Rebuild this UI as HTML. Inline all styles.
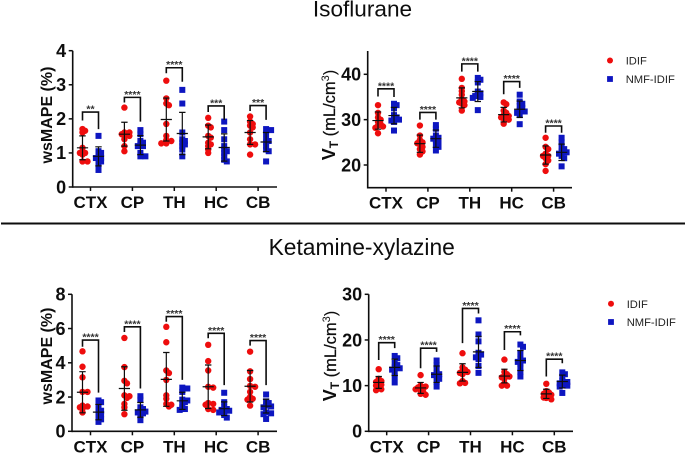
<!DOCTYPE html>
<html lang="en">
<head>
<meta charset="utf-8">
<title>Isoflurane and Ketamine-xylazine charts</title>
<style>
html,body{margin:0;padding:0;background:#fff;width:685px;height:454px;overflow:hidden}
svg{display:block;font-family:"Liberation Sans",Arial,sans-serif}
</style>
</head>
<body>
<svg id="figure" width="685" height="454" viewBox="0 0 685 454" xmlns="http://www.w3.org/2000/svg">
  <defs>
    <filter id="soft" x="-5%" y="-5%" width="110%" height="110%"><feGaussianBlur stdDeviation="0.35"/></filter>
  </defs>
  <g filter="url(#soft)">
    <text x="362.5" y="16.5" text-anchor="middle" font-size="22.6" fill="#111">Isoflurane</text>
    <line x1="1" x2="685" y1="223.5" y2="223.5" stroke="#111" stroke-width="2"/>
    <text x="361.7" y="255" text-anchor="middle" font-size="22.8" fill="#111">Ketamine-xylazine</text>

    <text transform="translate(52,115) rotate(-90)" text-anchor="middle" font-size="16" font-weight="bold" fill="#111">wsMAPE (%)</text>
    <text transform="translate(52,356) rotate(-90)" text-anchor="middle" font-size="16" font-weight="bold" fill="#111">wsMAPE (%)</text>
    <text transform="translate(335,115) rotate(-90)" text-anchor="middle" font-size="16" font-weight="bold" fill="#111"><tspan font-size="18">V</tspan><tspan font-size="12" dy="3">T</tspan><tspan dy="-3" font-size="16.5" stroke="#111" stroke-width="0.25" font-weight="normal"> (mL/cm</tspan><tspan font-size="11" dy="-6" font-weight="normal">3</tspan><tspan dy="6" font-size="16.5" font-weight="normal">)</tspan></text>
    <text transform="translate(336,356) rotate(-90)" text-anchor="middle" font-size="16" font-weight="bold" fill="#111"><tspan font-size="18">V</tspan><tspan font-size="12" dy="3">T</tspan><tspan dy="-3" font-size="16.5" stroke="#111" stroke-width="0.25" font-weight="normal"> (mL/cm</tspan><tspan font-size="11" dy="-6" font-weight="normal">3</tspan><tspan dy="6" font-size="16.5" font-weight="normal">)</tspan></text>

    <g>
      <circle cx="610" cy="60.5" r="3" fill="#ee1111"/>
      <text x="625.7" y="64.7" font-size="11.2" fill="#222">IDIF</text>
      <rect x="607.1" y="76.1" width="5.8" height="5.8" fill="#0a14c0"/>
      <text x="625.7" y="83" font-size="11.2" fill="#222">NMF-IDIF</text>
    </g>
    <g>
      <circle cx="611" cy="303.7" r="3" fill="#ee1111"/>
      <text x="626.7" y="307.9" font-size="11.2" fill="#222">IDIF</text>
      <rect x="608.1" y="319.1" width="5.8" height="5.8" fill="#0a14c0"/>
      <text x="626.7" y="326" font-size="11.2" fill="#222">NMF-IDIF</text>
    </g>
    <g id="plots"></g>
  </g>
</svg>
<script>
const categories = ["CTX", "CP", "TH", "HC", "CB"];

const isoMapeTicks = [0, 1, 2, 3, 4];
const isoMapeIdif = [
  [1.7,1.65,1.6,1.15,1.05,1.0,1.0,0.95,0.75,0.75],
  [2.33,1.6,1.6,1.55,1.55,1.5,1.5,1.4,1.2,1.05],
  [3.12,2.6,2.45,2.4,1.85,1.5,1.38,1.35,1.28,1.28],
  [2.03,1.8,1.75,1.5,1.45,1.3,1.25,1.2,1.1,1.0],
  [2.07,1.92,1.85,1.8,1.75,1.6,1.4,1.25,1.25,0.95]
];
const isoMapeNmf = [
  [1.5,1.05,1.0,0.9,0.85,0.85,0.8,0.75,0.65,0.5],
  [1.67,1.55,1.35,1.3,1.25,1.2,1.2,1.0,0.9,0.9],
  [2.85,2.45,1.6,1.4,1.35,1.3,1.25,1.2,1.1,0.9],
  [1.92,1.67,1.4,1.2,1.1,1.05,1.0,0.9,0.8,0.75],
  [1.7,1.67,1.57,1.4,1.35,1.3,1.2,1.1,1.05,0.75]
];
const isoMapeIdifMean = [1.15,1.55,1.98,1.47,1.6];
const isoMapeIdifSd = [0.35,0.35,0.63,0.35,0.35];
const isoMapeNmfMean = [0.9,1.23,1.57,1.16,1.32];
const isoMapeNmfSd = [0.28,0.28,0.62,0.4,0.28];
const isoMapeBracketTop = [2.2,2.63,3.5,2.38,2.39];
const isoMapeBracketLeft = [1.95,2.48,3.34,2.2,2.23];
const isoMapeBracketRight = [1.7,1.92,3.09,1.97,1.97];
const isoMapeStars = ["**","****","****","***","***"];

const isoVtTicks = [20, 30, 40];
const isoVtIdif = [
  [33.2,31.5,30.5,30,29.5,29,28.7,28.5,28.2,27],
  [28.7,26.5,25.5,25,24.8,24.5,24,23.5,23,22.3],
  [39,37,36.3,35.5,34.5,34,33.8,33.5,33.2,32],
  [33.8,33.4,32,31.5,31,30.8,30.5,30.2,30,29.1],
  [26,24,23.5,22.5,22,22,21.5,21,20.2,18.7]
];
const isoVtNmf = [
  [33.5,33.2,32.5,31,30.5,30.2,30,29.8,29.5,27.6],
  [28.8,28,26.5,26,25.8,25.5,25,24.5,24,23.2],
  [39.2,38.8,38.2,36.2,35.8,35.5,35.2,35,34.8,32.1],
  [35.5,34,33.5,33,32.5,32,31.8,31.5,31,29],
  [26,25,24,23.5,23,22.8,22.5,22,21.5,19.7]
];
const isoVtIdifMean = [29.8,24.7,34.8,31.1,22.2];
const isoVtIdifSd = [1.9,1.9,2.2,1.6,2];
const isoVtNmfMean = [30.9,25.8,36.2,32.3,22.8];
const isoVtNmfSd = [1.8,1.9,2.2,1.8,1.8];
const isoVtBracketTop = [36.8,31.6,42.3,38.4,28.6];
const isoVtBracketLeft = [35.1,30,40.6,35.6,27.1];
const isoVtBracketRight = [35,30,40.6,37,27.1];
const isoVtStars = ["****","****","****","****","****"];

const ketMapeTicks = [0, 2, 4, 6, 8];
const ketMapeIdif = [
  [4.67,3.77,3.15,2.3,2.3,1.5,1.45,1.4,1.3,1.1],
  [5.45,3.75,2.95,2.8,2.1,2.05,1.95,1.6,1.4,1.0],
  [6.1,5.2,3.55,3.4,3.0,2.1,1.9,1.6,1.55,1.45],
  [5.05,4.1,3.55,2.6,2.55,1.65,1.6,1.55,1.3,1.25],
  [4.65,3.5,3.05,2.65,2.6,2.3,2.0,1.9,1.85,1.5]
];
const ketMapeNmf = [
  [1.8,1.7,1.6,1.3,1.2,1.1,1.0,0.8,0.7,0.55],
  [2.05,1.85,1.4,1.3,1.2,1.15,1.1,1.05,0.9,0.65],
  [2.55,2.5,2.3,1.85,1.8,1.7,1.6,1.4,1.3,1.25],
  [2.25,1.7,1.4,1.3,1.25,1.2,1.15,1.1,0.95,0.8],
  [2.15,1.75,1.65,1.5,1.45,1.4,1.1,1.05,1.0,0.72]
];
const ketMapeIdifMean = [2.28,2.5,3.03,2.6,2.63];
const ketMapeIdifSd = [1.2,1.27,1.57,1.27,0.92];
const ketMapeNmfMean = [1.12,1.25,1.78,1.32,1.47];
const ketMapeNmfSd = [0.45,0.43,0.5,0.4,0.4];
const ketMapeBracketTop = [5.33,6.1,6.7,5.72,5.3];
const ketMapeBracketLeft = [4.94,5.8,6.4,5.43,5];
const ketMapeBracketRight = [2.26,2.5,3.0,2.7,2.7];
const ketMapeStars = ["****","****","****","****","****"];

const ketVtTicks = [0, 10, 20, 30];
const ketVtIdif = [
  [13.6,11.5,11,10.8,10.5,10.2,10,9.5,9.2,9],
  [12.3,10,9.8,9.6,9.4,9.2,9,8.6,8.2,8],
  [17.1,14,13.5,13.2,13,12.8,12.5,11,10.6,10.5],
  [15.7,13,12.5,12.2,12,11.8,11.5,10.5,10,10],
  [10.4,8.8,8.5,8.2,8,7.8,7.5,7.4,7.3,7]
];
const ketVtNmf = [
  [16.5,16,15,14.5,14,13.8,13.5,13,12,10.7],
  [15.5,14.5,13.5,12.8,12.5,12.3,12,11.5,10.8,9.8],
  [24.3,21.2,19.7,17.2,16.8,16.5,16.2,15.8,14.3,12.8],
  [19,18.5,17,15.8,15.5,15.2,14.8,14,13,12],
  [12.9,12.5,12,11,10.8,10.5,10.2,10,9.8,8.4]
];
const ketVtIdifMean = [10.7,9.5,12.9,12.1,8.2];
const ketVtIdifSd = [1.3,1.2,1.9,1.5,1];
const ketVtNmfMean = [14,12.5,17.4,15.5,10.9];
const ketVtNmfSd = [1.8,1.8,3.4,2.2,1.4];
const ketVtBracketTop = [19.4,18.2,26.9,21.8,15.8];
const ketVtBracketLeft = [15.6,13.8,19.3,17.8,12];
const ketVtBracketRight = [18.2,17.4,25.8,21,14.9];
const ketVtStars = ["****","****","****","****","****"];

const SVGNS = "http://www.w3.org/2000/svg";
const root = document.getElementById("plots");

function make(parent, tag, attrs, text) {
  const el = document.createElementNS(SVGNS, tag);
  for (const k in attrs) el.setAttribute(k, attrs[k]);
  if (text !== undefined) el.textContent = text;
  parent.appendChild(el);
  return el;
}

// Beeswarm: keep the value, spread horizontally only as far as needed to avoid overlap.
function swarm(values, yScale) {
  const placed = [];
  const candidates = [0, 2.6, -2.6, 5, -5, 1.3, -1.3];
  values.forEach(function (v) {
    const py = yScale(v);
    let best = 0;
    for (const c of candidates) {
      const clash = placed.some(function (p) {
        return Math.hypot(p.dx - c, p.py - py) < 2.8;
      });
      if (!clash) { best = c; break; }
    }
    placed.push({ dx: best, py: py });
  });
  return placed;
}

function drawPanel(p) {
  const g = make(root, "g", {});
  
  

  const yScale = function (v) { return p.y0 + (v - p.v0) * (p.y1 - p.y0) / (p.v1 - p.v0); };
  const xScale = function (i) { return p.cx0 + i * p.step; };

  const yAxis = make(g, "line", { x1: p.axisX, x2: p.axisX, y1: p.axisTop, y2: p.axisBottom + 0.8, stroke: "#111", "stroke-width": 1.6 });
  
  
  const xAxis = make(g, "line", { x1: p.axisX, x2: p.axisEnd, y1: p.axisBottom, y2: p.axisBottom, stroke: "#111", "stroke-width": 1.6 });
  
  

  p.ticks.forEach(function (t) {
    const y = yScale(t);
    const tick = make(g, "line", { x1: p.axisX - 4, x2: p.axisX, y1: y, y2: y, stroke: "#111", "stroke-width": 1.5 });
    
    
    const label = make(g, "text", { x: p.axisX - 6.5, y: y + 6.3, "text-anchor": "end", "font-size": 18, "font-weight": "bold", fill: "#111" }, String(t));
    
    
  });

  categories.forEach(function (cat, i) {
    const cx = xScale(i);
    const tick = make(g, "line", { x1: cx, x2: cx, y1: p.axisBottom, y2: p.axisBottom + 4, stroke: "#111", "stroke-width": 1.5 });
    
    
    const label = make(g, "text", { x: cx, y: p.axisBottom + 21, "text-anchor": "middle", "font-size": 17, "font-weight": "bold", fill: "#111" }, cat);
    
    

    const xL = cx - 8;
    const xR = cx + 8;

    swarm(p.idif[i], yScale).forEach(function (pt) {
      const dot = make(g, "circle", { cx: xL + pt.dx, cy: pt.py, r: 3.2, fill: "#ee1111" });
      
      
    });
    swarm(p.nmf[i], yScale).forEach(function (pt) {
      const sq = make(g, "rect", { x: xR + pt.dx - 3, y: pt.py - 3, width: 6, height: 6, fill: "#0a14c0" });
      
      
    });

    [[xL, p.idifMean[i], p.idifSd[i]], [xR, p.nmfMean[i], p.nmfSd[i]]].forEach(function (e) {
      const yM = yScale(e[1]);
      const yHi = yScale(e[1] + e[2]);
      const yLo = yScale(e[1] - e[2]);
      const d = "M" + e[0] + " " + yHi + "V" + yLo +
        "M" + (e[0] - 3.2) + " " + yHi + "H" + (e[0] + 3.2) +
        "M" + (e[0] - 3.2) + " " + yLo + "H" + (e[0] + 3.2) +
        "M" + (e[0] - 5.6) + " " + yM + "H" + (e[0] + 5.6);
      const err = make(g, "path", { d: d, stroke: "#111", "stroke-width": 1.2, fill: "none" });
      
      
    });

    const top = yScale(p.bTop[i]);
    const bracket = make(g, "path", {
      d: "M" + xL + " " + yScale(p.bLeft[i]) + "V" + top + "H" + xR + "V" + yScale(p.bRight[i]),
      stroke: "#111", "stroke-width": 1.6, fill: "none"
    });
    
    
    const stars = make(g, "text", { x: cx, y: top + 0.5, "text-anchor": "middle", "font-size": 10.5, "font-weight": "bold", fill: "#333" }, p.stars[i]);
    
    
  });
}

drawPanel({
  key: "iso-mape", ticks: isoMapeTicks, v0: 0, v1: 4, y0: 187, y1: 50.7,
  axisX: 72.7, axisEnd: 277, axisTop: 50.7, axisBottom: 187, cx0: 90.5, step: 41.9,
  idif: isoMapeIdif, nmf: isoMapeNmf, idifMean: isoMapeIdifMean, idifSd: isoMapeIdifSd,
  nmfMean: isoMapeNmfMean, nmfSd: isoMapeNmfSd, bTop: isoMapeBracketTop,
  bLeft: isoMapeBracketLeft, bRight: isoMapeBracketRight, stars: isoMapeStars
});
drawPanel({
  key: "iso-vt", ticks: isoVtTicks, v0: 20, v1: 40, y0: 165, y1: 74.3,
  axisX: 367.7, axisEnd: 572, axisTop: 51, axisBottom: 187.7, cx0: 386, step: 41.9,
  idif: isoVtIdif, nmf: isoVtNmf, idifMean: isoVtIdifMean, idifSd: isoVtIdifSd,
  nmfMean: isoVtNmfMean, nmfSd: isoVtNmfSd, bTop: isoVtBracketTop,
  bLeft: isoVtBracketLeft, bRight: isoVtBracketRight, stars: isoVtStars
});
drawPanel({
  key: "ket-mape", ticks: ketMapeTicks, v0: 0, v1: 8, y0: 431.3, y1: 294.3,
  axisX: 72, axisEnd: 277, axisTop: 294.3, axisBottom: 431.3, cx0: 90.5, step: 41.9,
  idif: ketMapeIdif, nmf: ketMapeNmf, idifMean: ketMapeIdifMean, idifSd: ketMapeIdifSd,
  nmfMean: ketMapeNmfMean, nmfSd: ketMapeNmfSd, bTop: ketMapeBracketTop,
  bLeft: ketMapeBracketLeft, bRight: ketMapeBracketRight, stars: ketMapeStars
});
drawPanel({
  key: "ket-vt", ticks: ketVtTicks, v0: 0, v1: 30, y0: 431.3, y1: 294.3,
  axisX: 368.7, axisEnd: 573, axisTop: 294.3, axisBottom: 431.3, cx0: 386.7, step: 41.9,
  idif: ketVtIdif, nmf: ketVtNmf, idifMean: ketVtIdifMean, idifSd: ketVtIdifSd,
  nmfMean: ketVtNmfMean, nmfSd: ketVtNmfSd, bTop: ketVtBracketTop,
  bLeft: ketVtBracketLeft, bRight: ketVtBracketRight, stars: ketVtStars
});
</script>
</body>
</html>
